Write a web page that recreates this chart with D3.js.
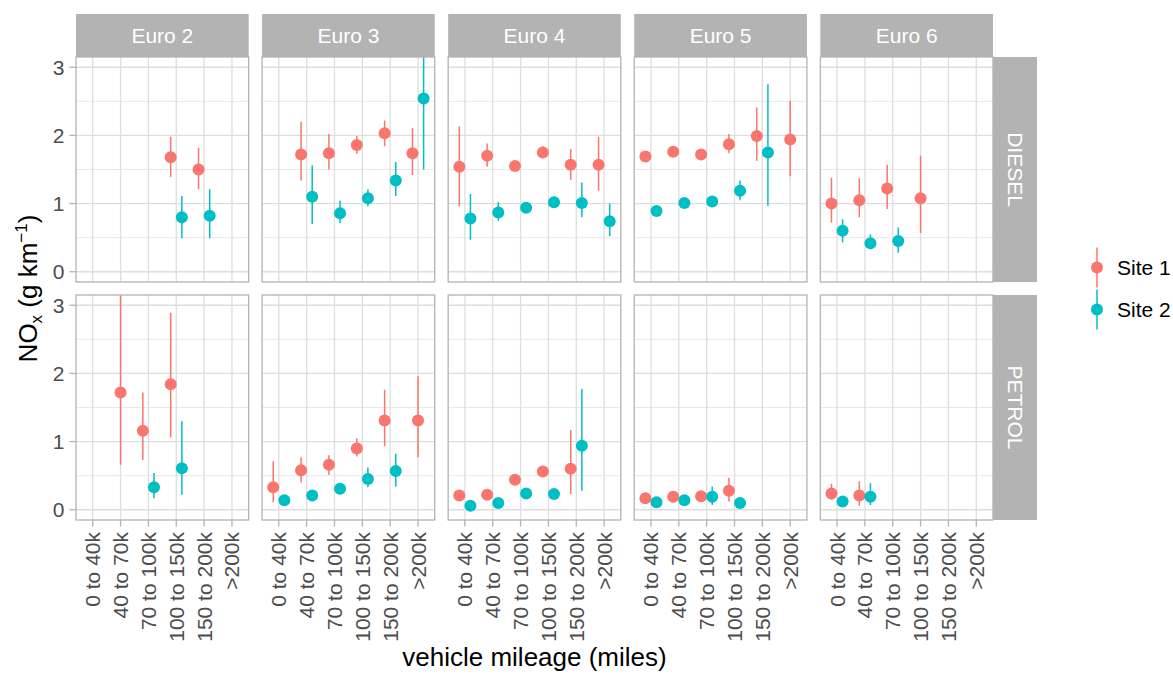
<!DOCTYPE html>
<html><head><meta charset="utf-8">
<script src="https://cdn.jsdelivr.net/npm/d3@7"></script>
<style>body{margin:0;background:#fff}</style>
</head><body>
<svg id="c" width="1173" height="674"></svg>
<script>
// ---------- data ----------
const mileageBands = ["0 to 40k","40 to 70k","70 to 100k","100 to 150k","150 to 200k",">200k"];
const euroClasses = ["Euro 2","Euro 3","Euro 4","Euro 5","Euro 6"];
const fuelTypes = ["DIESEL","PETROL"];
const siteNames = ["Site 1","Site 2"];
const siteColors = ["#F8766D","#00BFC4"];
const yTicks = [0,1,2,3];
const _ = null;

// rows: Euro 2..Euro 6 ; columns: mileage bands
const dieselSite1Mean = [[_,_,_,1.68,1.50,_],[_,1.72,1.74,1.86,2.03,1.74],[1.54,1.70,1.55,1.75,1.57,1.57],[1.69,1.76,1.72,1.87,1.99,1.94],[1.00,1.05,1.22,1.08,_,_]];
const dieselSite1Low  = [[_,_,_,1.39,1.21,_],[_,1.34,1.50,1.73,1.84,1.42],[0.96,1.54,1.49,1.68,1.35,1.19],[1.62,1.70,1.66,1.74,1.63,1.40],[0.72,0.80,0.92,0.57,_,_]];
const dieselSite1High = [[_,_,_,1.98,1.82,_],[_,2.20,2.02,1.99,2.22,2.11],[2.13,1.88,1.61,1.84,1.80,1.98],[1.77,1.82,1.79,2.02,2.41,2.51],[1.38,1.37,1.57,1.70,_,_]];

const dieselSite2Mean = [[_,_,_,0.80,0.82,_],[_,1.10,0.86,1.08,1.34,2.54],[0.78,0.87,0.94,1.02,1.01,0.74],[0.89,1.01,1.03,1.19,1.75,_],[0.60,0.42,0.45,_,_,_]];
const dieselSite2Low  = [[_,_,_,0.49,0.49,_],[_,0.70,0.71,0.96,1.11,1.50],[0.47,0.75,0.88,0.98,0.80,0.52],[0.85,0.97,0.99,1.05,0.97,_],[0.43,0.33,0.28,_,_,_]];
const dieselSite2High = [[_,_,_,1.11,1.21,_],[_,1.56,1.04,1.21,1.61,3.50],[1.14,1.02,1.00,1.07,1.31,1.00],[0.93,1.05,1.07,1.34,2.75,_],[0.77,0.55,0.65,_,_,_]];

const petrolSite1Mean = [[_,1.72,1.16,1.84,_,_],[0.33,0.58,0.66,0.90,1.31,1.31],[0.21,0.22,0.44,0.56,0.60,_],[0.17,0.19,0.20,0.28,_,_],[0.24,0.21,_,_,_,_]];
const petrolSite1Low  = [[_,0.66,0.73,1.06,_,_],[0.11,0.40,0.51,0.78,0.93,0.77],[0.18,0.19,0.40,0.52,0.23,_],[0.14,0.16,0.17,0.12,_,_],[0.15,0.06,_,_,_,_]];
const petrolSite1High = [[_,3.50,1.72,2.89,_,_],[0.71,0.77,0.80,1.05,1.76,1.96],[0.24,0.25,0.48,0.60,1.17,_],[0.20,0.22,0.23,0.47,_,_],[0.38,0.42,_,_,_,_]];

const petrolSite2Mean = [[_,_,0.33,0.61,_,_],[0.14,0.21,0.31,0.45,0.57,_],[0.06,0.10,0.24,0.23,0.94,_],[0.11,0.14,0.19,0.10,_,_],[0.12,0.19,_,_,_,_]];
const petrolSite2Low  = [[_,_,0.17,0.22,_,_],[0.12,0.18,0.28,0.33,0.34,_],[0.04,0.08,0.21,0.20,0.28,_],[0.09,0.12,0.07,0.08,_,_],[0.10,0.07,_,_,_,_]];
const petrolSite2High = [[_,_,0.54,1.30,_,_],[0.16,0.24,0.34,0.62,0.82,_],[0.08,0.12,0.27,0.26,1.77,_],[0.13,0.16,0.34,0.12,_,_],[0.14,0.39,_,_,_,_]];

const seriesTable = [
  [[dieselSite1Mean,dieselSite1Low,dieselSite1High],[dieselSite2Mean,dieselSite2Low,dieselSite2High]],
  [[petrolSite1Mean,petrolSite1Low,petrolSite1High],[petrolSite2Mean,petrolSite2Low,petrolSite2High]]
];

// ---------- layout ----------
const FONT = "'Liberation Sans', Arial, Helvetica, sans-serif";
const L = 76, R = 993, T = 57, B = 520, gapX = 13.4, gapY = 13;
const stripH = 43, stripW = 44;
const pw = (R - L - 4*gapX) / 5, ph = (B - T - gapY) / 2;
const gridCol = "#DEDEDE", borderCol = "#B3B3B3", tickTextCol = "#4D4D4D";
const dotR = 6;

const svg = d3.select("#c");
svg.append("rect").attr("width",1173).attr("height",674).attr("fill","#fff");

const x = d3.scalePoint().domain(mileageBands).range([0, pw]).padding(0.6);
const y = d3.scaleLinear().domain([-0.15, 3.15]).range([ph, 0]);
const step = x.step();
const dodge = 0.2 * step;

fuelTypes.forEach((fuel, fi) => {
  euroClasses.forEach((euro, ei) => {
    const px = L + ei*(pw + gapX), py = T + fi*(ph + gapY);
    const g = svg.append("g").attr("transform", `translate(${px},${py})`);
    const clipId = `clip-${fi}-${ei}`;
    g.append("clipPath").attr("id", clipId).append("rect").attr("width", pw).attr("height", ph);
    g.append("rect").attr("width", pw).attr("height", ph).attr("fill", "#fff");
    // minor grid
    [0.5,1.5,2.5].forEach(v => g.append("line").attr("x1",0).attr("x2",pw).attr("y1",y(v)).attr("y2",y(v))
      .attr("stroke",gridCol).attr("stroke-width",0.7));
    // major grid
    yTicks.forEach(v => g.append("line").attr("x1",0).attr("x2",pw).attr("y1",y(v)).attr("y2",y(v))
      .attr("stroke",gridCol).attr("stroke-width",1.3));
    mileageBands.forEach(m => g.append("line").attr("x1",x(m)).attr("x2",x(m)).attr("y1",0).attr("y2",ph)
      .attr("stroke",gridCol).attr("stroke-width",1.3));

    const dg = g.append("g").attr("clip-path", `url(#${clipId})`);
    mileageBands.forEach((m, mi) => {
      const present = siteNames.map((s, si) => seriesTable[fi][si][0][ei][mi] != null);
      const both = present[0] && present[1];
      siteNames.forEach((s, si) => {
        const mean = seriesTable[fi][si][0][ei][mi];
        if (mean == null) return;
        const lo = seriesTable[fi][si][1][ei][mi], hi = seriesTable[fi][si][2][ei][mi];
        const cx = x(m) + (both ? (si === 0 ? -dodge : dodge) : 0);
        dg.append("line").attr("x1",cx).attr("x2",cx).attr("y1",y(lo)).attr("y2",y(hi))
          .attr("stroke",siteColors[si]).attr("stroke-width",1.5);
        dg.append("circle").attr("cx",cx).attr("cy",y(mean)).attr("r",dotR).attr("fill",siteColors[si]);
      });
    });
    g.append("rect").attr("width", pw).attr("height", ph).attr("fill","none")
      .attr("stroke",borderCol).attr("stroke-width",1.3);

    // y axis
    if (ei === 0) {
      yTicks.forEach(v => {
        g.append("line").attr("x1",-6.6).attr("x2",0).attr("y1",y(v)).attr("y2",y(v))
          .attr("stroke",borderCol).attr("stroke-width",1.3);
        g.append("text").attr("x",-11.5).attr("y",y(v)).attr("text-anchor","end")
          .attr("dominant-baseline","central").attr("font-family",FONT).attr("font-size",21)
          .attr("fill",tickTextCol).text(v);
      });
    }
    // x axis
    if (fi === 1) {
      mileageBands.forEach(m => {
        g.append("line").attr("x1",x(m)).attr("x2",x(m)).attr("y1",ph).attr("y2",ph+6.6)
          .attr("stroke",borderCol).attr("stroke-width",1.3);
        g.append("text").attr("transform",`translate(${x(m)},${ph+12})rotate(-90)`)
          .attr("text-anchor","end").attr("dominant-baseline","central")
          .attr("font-family",FONT).attr("font-size",21).attr("fill",tickTextCol).text(m);
      });
    }
    // top strips
    if (fi === 0) {
      svg.append("rect").attr("x",px).attr("y",T-stripH).attr("width",pw).attr("height",stripH).attr("fill","#B3B3B3");
      svg.append("text").attr("x",px+pw/2).attr("y",T-stripH/2).attr("text-anchor","middle")
        .attr("dominant-baseline","central").attr("font-family",FONT).attr("font-size",21)
        .attr("fill","#fff").text(euro);
    }
    // right strips
    if (ei === 4) {
      svg.append("rect").attr("x",R).attr("y",py).attr("width",stripW).attr("height",ph).attr("fill","#B3B3B3");
      svg.append("text").attr("transform",`translate(${R+stripW/2},${py+ph/2})rotate(90)`)
        .attr("text-anchor","middle").attr("dominant-baseline","central").attr("font-family",FONT)
        .attr("font-size",21).attr("fill","#fff").text(fuel);
    }
  });
});

// axis titles
svg.append("text").attr("x",(L+R)/2).attr("y",666).attr("text-anchor","middle")
  .attr("font-family",FONT).attr("font-size",26).attr("fill","#000").text("vehicle mileage (miles)");

const yt = svg.append("text").attr("transform",`translate(37,${(T+B)/2})rotate(-90)`)
  .attr("text-anchor","middle").attr("font-family",FONT).attr("font-size",26).attr("fill","#000");
yt.append("tspan").text("NO");
yt.append("tspan").attr("font-size",17).attr("dy",5).text("x");
yt.append("tspan").attr("dy",-5).text(" (g km");
yt.append("tspan").attr("font-size",17).attr("dy",-10).text("\u22121");
yt.append("tspan").attr("dy",10).text(")");

// legend
const keyH = 42, legCx = 1097, legTop = (T+B)/2 - keyH;
siteNames.forEach((s, si) => {
  const cy = legTop + keyH*si + keyH/2;
  svg.append("line").attr("x1",legCx).attr("x2",legCx).attr("y1",cy-keyH/2+1).attr("y2",cy+keyH/2-1)
    .attr("stroke",siteColors[si]).attr("stroke-width",1.5);
  svg.append("circle").attr("cx",legCx).attr("cy",cy).attr("r",dotR).attr("fill",siteColors[si]);
  svg.append("text").attr("x",1117).attr("y",cy).attr("dominant-baseline","central")
    .attr("font-family",FONT).attr("font-size",21).attr("fill","#000").text(s);
});
</script>
</body></html>
